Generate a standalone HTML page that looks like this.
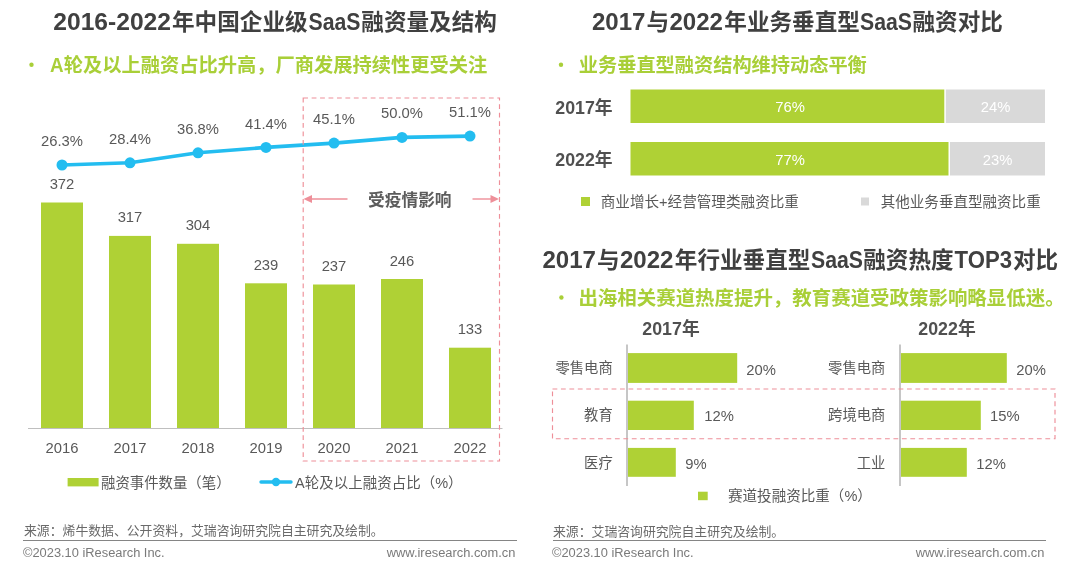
<!DOCTYPE html>
<html lang="zh-CN">
<head>
<meta charset="utf-8">
<title>SaaS融资量及结构</title>
<style>
html,body{margin:0;padding:0;background:#fff;}
body{width:1080px;height:572px;overflow:hidden;}
svg{display:block;font-family:"Liberation Sans", "Noto Sans CJK SC", sans-serif;}
</style>
</head>
<body>
<svg width="1080" height="572" viewBox="0 0 1080 572">
<rect x="0" y="0" width="1080" height="572" fill="#ffffff"/>
<text fill="#404040" font-weight="bold"><tspan x="53.3" y="29.6" font-size="23.3" textLength="117.7" lengthAdjust="spacingAndGlyphs">2016-2022</tspan><tspan x="172" y="29.9" font-size="22.6" textLength="135.6" lengthAdjust="spacingAndGlyphs">年中国企业级</tspan><tspan x="308.5" y="29.6" font-size="23.3" textLength="52" lengthAdjust="spacingAndGlyphs">SaaS</tspan><tspan x="361.3" y="29.9" font-size="22.6" textLength="135.6" lengthAdjust="spacingAndGlyphs">融资量及结构</tspan></text>
<circle cx="31.5" cy="64.8" r="2.2" fill="#a9cf38"/>
<text fill="#a9cf38" font-weight="bold"><tspan x="50" y="71.9" font-size="20.6" textLength="13.6" lengthAdjust="spacingAndGlyphs">A</tspan><tspan x="63.8" y="72.4" font-size="19.25" textLength="423.5" lengthAdjust="spacingAndGlyphs">轮及以上融资占比升高，厂商发展持续性更受关注</tspan></text>
<rect x="41" y="202.5" width="42" height="226.0" fill="#afd135"/>
<text x="62" y="189.0" font-size="14.8" fill="#595959" text-anchor="middle">372</text>
<rect x="109" y="235.9" width="42" height="192.6" fill="#afd135"/>
<text x="130" y="222.4" font-size="14.8" fill="#595959" text-anchor="middle">317</text>
<rect x="177" y="243.8" width="42" height="184.7" fill="#afd135"/>
<text x="198" y="230.3" font-size="14.8" fill="#595959" text-anchor="middle">304</text>
<rect x="245" y="283.3" width="42" height="145.2" fill="#afd135"/>
<text x="266" y="269.8" font-size="14.8" fill="#595959" text-anchor="middle">239</text>
<rect x="313" y="284.5" width="42" height="144.0" fill="#afd135"/>
<text x="334" y="271.0" font-size="14.8" fill="#595959" text-anchor="middle">237</text>
<rect x="381" y="279.0" width="42" height="149.5" fill="#afd135"/>
<text x="402" y="265.5" font-size="14.8" fill="#595959" text-anchor="middle">246</text>
<rect x="449" y="347.7" width="42" height="80.8" fill="#afd135"/>
<text x="470" y="334.2" font-size="14.8" fill="#595959" text-anchor="middle">133</text>
<line x1="28" y1="428.5" x2="502.5" y2="428.5" stroke="#bfbfbf" stroke-width="1"/>
<text x="62" y="453.3" font-size="14.8" fill="#595959" text-anchor="middle">2016</text>
<text x="130" y="453.3" font-size="14.8" fill="#595959" text-anchor="middle">2017</text>
<text x="198" y="453.3" font-size="14.8" fill="#595959" text-anchor="middle">2018</text>
<text x="266" y="453.3" font-size="14.8" fill="#595959" text-anchor="middle">2019</text>
<text x="334" y="453.3" font-size="14.8" fill="#595959" text-anchor="middle">2020</text>
<text x="402" y="453.3" font-size="14.8" fill="#595959" text-anchor="middle">2021</text>
<text x="470" y="453.3" font-size="14.8" fill="#595959" text-anchor="middle">2022</text>
<polyline points="62,165 130,162.8 198,152.8 266,147.4 334,143.1 402,137.4 470,136.1" fill="none" stroke="#23bdf0" stroke-width="3.6" stroke-linejoin="round" stroke-linecap="round"/>
<circle cx="62" cy="165" r="5.5" fill="#23bdf0"/>
<circle cx="130" cy="162.8" r="5.5" fill="#23bdf0"/>
<circle cx="198" cy="152.8" r="5.5" fill="#23bdf0"/>
<circle cx="266" cy="147.4" r="5.5" fill="#23bdf0"/>
<circle cx="334" cy="143.1" r="5.5" fill="#23bdf0"/>
<circle cx="402" cy="137.4" r="5.5" fill="#23bdf0"/>
<circle cx="470" cy="136.1" r="5.5" fill="#23bdf0"/>
<text x="62" y="146.4" font-size="14.8" fill="#595959" text-anchor="middle">26.3%</text>
<text x="130" y="143.8" font-size="14.8" fill="#595959" text-anchor="middle">28.4%</text>
<text x="198" y="133.5" font-size="14.8" fill="#595959" text-anchor="middle">36.8%</text>
<text x="266" y="128.5" font-size="14.8" fill="#595959" text-anchor="middle">41.4%</text>
<text x="334" y="124.3" font-size="14.8" fill="#595959" text-anchor="middle">45.1%</text>
<text x="402" y="118" font-size="14.8" fill="#595959" text-anchor="middle">50.0%</text>
<text x="470" y="117.1" font-size="14.8" fill="#595959" text-anchor="middle">51.1%</text>
<rect x="303.2" y="98" width="196.3" height="363" fill="none" stroke="#ee8f99" stroke-width="1.15" stroke-dasharray="4.8 3.64"/>
<g stroke="#ee8f99" stroke-width="1.4" fill="#ee8f99"><line x1="308" y1="199" x2="347.5" y2="199"/><polygon points="303.5,199 312,195 312,203" stroke="none"/><line x1="472.5" y1="199" x2="494" y2="199"/><polygon points="499,199 490.5,195 490.5,203" stroke="none"/></g>
<text x="409.8" y="205.5" font-size="16.7" fill="#5c5c5c" font-weight="bold" text-anchor="middle">受疫情影响</text>
<rect x="67.6" y="478" width="31" height="8.4" fill="#afd135"/>
<text x="101" y="487.5" font-size="14.4" fill="#595959">融资事件数量（笔）</text>
<line x1="261" y1="482" x2="291" y2="482" stroke="#23bdf0" stroke-width="3.4" stroke-linecap="round"/><circle cx="276" cy="482" r="4.2" fill="#23bdf0"/>
<text x="295" y="487.5" font-size="14.5" fill="#595959">A轮及以上融资占比（%）</text>
<text x="24" y="535" font-size="12.85" fill="#6a6a6a">来源：烯牛数据、公开资料，艾瑞咨询研究院自主研究及绘制。</text>
<line x1="23" y1="540.5" x2="517" y2="540.5" stroke="#858585" stroke-width="1"/>
<text x="23" y="556.7" font-size="12.85" fill="#7a7a7a">©2023.10 iResearch Inc.</text>
<text x="515.3" y="556.5" font-size="12.85" fill="#7a7a7a" text-anchor="end">www.iresearch.com.cn</text>
<text fill="#404040" font-weight="bold"><tspan x="592" y="29.8" font-size="23.3" textLength="53.5" lengthAdjust="spacingAndGlyphs">2017</tspan><tspan x="646.4" y="30.1" font-size="22.6" textLength="22.6" lengthAdjust="spacingAndGlyphs">与</tspan><tspan x="669.5" y="29.8" font-size="23.3" textLength="53.5" lengthAdjust="spacingAndGlyphs">2022</tspan><tspan x="724.3" y="30.1" font-size="22.6" textLength="135.6" lengthAdjust="spacingAndGlyphs">年业务垂直型</tspan><tspan x="860" y="29.8" font-size="23.3" textLength="52" lengthAdjust="spacingAndGlyphs">SaaS</tspan><tspan x="912.5" y="30.1" font-size="22.6" textLength="90.4" lengthAdjust="spacingAndGlyphs">融资对比</tspan></text>
<circle cx="561" cy="64.8" r="2.2" fill="#a9cf38"/>
<text x="578.8" y="72.4" font-size="19.2" fill="#a9cf38" font-weight="bold" textLength="288" lengthAdjust="spacingAndGlyphs">业务垂直型融资结构维持动态平衡</text>
<rect x="630.5" y="89.5" width="313.8" height="33.5" fill="#afd135"/>
<rect x="945.8" y="89.5" width="99.2" height="33.5" fill="#d9d9d9"/>
<text x="555.3" y="113.8" font-size="17.8" fill="#505050" font-weight="bold">2017年</text>
<text x="790" y="112.0" font-size="14.8" fill="#ffffff" text-anchor="middle">76%</text>
<text x="995.56" y="112.0" font-size="14.8" fill="#ffffff" text-anchor="middle">24%</text>
<rect x="630.5" y="142" width="318.0" height="33.5" fill="#afd135"/>
<rect x="950.0" y="142" width="95.0" height="33.5" fill="#d9d9d9"/>
<text x="555.3" y="166.3" font-size="17.8" fill="#505050" font-weight="bold">2022年</text>
<text x="790" y="164.5" font-size="14.8" fill="#ffffff" text-anchor="middle">77%</text>
<text x="997.6325" y="164.5" font-size="14.8" fill="#ffffff" text-anchor="middle">23%</text>
<rect x="581" y="197" width="9" height="9" fill="#afd135"/>
<text x="600.7" y="206.5" font-size="14.6" fill="#595959">商业增长+经营管理类融资比重</text>
<rect x="861" y="197.5" width="8" height="8" fill="#d9d9d9"/>
<text x="880.7" y="206.5" font-size="14.55" fill="#595959">其他业务垂直型融资比重</text>
<text fill="#404040" font-weight="bold"><tspan x="542.5" y="267.7" font-size="23.3" textLength="53.5" lengthAdjust="spacingAndGlyphs">2017</tspan><tspan x="596.9" y="268.0" font-size="22.6" textLength="22.6" lengthAdjust="spacingAndGlyphs">与</tspan><tspan x="620" y="267.7" font-size="23.3" textLength="53.5" lengthAdjust="spacingAndGlyphs">2022</tspan><tspan x="674.8" y="268.0" font-size="22.6" textLength="135.6" lengthAdjust="spacingAndGlyphs">年行业垂直型</tspan><tspan x="811" y="267.7" font-size="23.3" textLength="52" lengthAdjust="spacingAndGlyphs">SaaS</tspan><tspan x="863.2" y="268.0" font-size="22.6" textLength="90.4" lengthAdjust="spacingAndGlyphs">融资热度</tspan><tspan x="954.5" y="267.7" font-size="23.3" textLength="57.5" lengthAdjust="spacingAndGlyphs">TOP3</tspan><tspan x="1013" y="268.0" font-size="22.6" textLength="45.2" lengthAdjust="spacingAndGlyphs">对比</tspan></text>
<circle cx="561.4" cy="297.5" r="2.2" fill="#a9cf38"/>
<text x="578.4" y="304.5" font-size="19.45" fill="#a9cf38" font-weight="bold" textLength="486.2" lengthAdjust="spacingAndGlyphs">出海相关赛道热度提升，教育赛道受政策影响略显低迷。</text>
<text x="671" y="335" font-size="17.8" fill="#505050" font-weight="bold" text-anchor="middle">2017年</text>
<text x="947" y="335" font-size="17.8" fill="#505050" font-weight="bold" text-anchor="middle">2022年</text>
<line x1="627.0" y1="344.6" x2="627.0" y2="486" stroke="#a0a0a0" stroke-width="1.2"/>
<rect x="628.0" y="353.1" width="109.2" height="29.8" fill="#afd135"/>
<text x="612.7" y="373.1" font-size="14.3" fill="#595959" text-anchor="end">零售电商</text>
<text x="746.3" y="374.5" font-size="14.8" fill="#595959">20%</text>
<rect x="628.0" y="400.7" width="65.8" height="29.3" fill="#afd135"/>
<text x="612.7" y="420.3" font-size="14.3" fill="#595959" text-anchor="end">教育</text>
<text x="704.3" y="421.1" font-size="14.8" fill="#595959">12%</text>
<rect x="628.0" y="447.9" width="47.8" height="28.9" fill="#afd135"/>
<text x="612.7" y="467.6" font-size="14.3" fill="#595959" text-anchor="end">医疗</text>
<text x="685.3" y="468.7" font-size="14.8" fill="#595959">9%</text>
<line x1="900.0" y1="344.6" x2="900.0" y2="486" stroke="#a0a0a0" stroke-width="1.2"/>
<rect x="901.0" y="353.1" width="105.8" height="29.8" fill="#afd135"/>
<text x="885.3" y="373.1" font-size="14.3" fill="#595959" text-anchor="end">零售电商</text>
<text x="1016.3" y="374.5" font-size="14.8" fill="#595959">20%</text>
<rect x="901.0" y="400.7" width="79.8" height="29.3" fill="#afd135"/>
<text x="885.3" y="420.3" font-size="14.3" fill="#595959" text-anchor="end">跨境电商</text>
<text x="990.0" y="421.1" font-size="14.8" fill="#595959">15%</text>
<rect x="901.0" y="447.9" width="65.8" height="28.9" fill="#afd135"/>
<text x="885.3" y="467.6" font-size="14.3" fill="#595959" text-anchor="end">工业</text>
<text x="976.3" y="468.7" font-size="14.8" fill="#595959">12%</text>
<rect x="552.5" y="389" width="502.5" height="49.7" fill="none" stroke="#ee8f99" stroke-width="1.15" stroke-dasharray="4.8 3.64"/>
<rect x="698" y="491.7" width="9.7" height="8.5" fill="#afd135"/>
<text x="728" y="501" font-size="14.55" fill="#595959">赛道投融资比重（%）</text>
<text x="553" y="535.7" font-size="12.85" fill="#6a6a6a">来源：艾瑞咨询研究院自主研究及绘制。</text>
<line x1="553" y1="540.5" x2="1046" y2="540.5" stroke="#858585" stroke-width="1"/>
<text x="552" y="556.7" font-size="12.85" fill="#7a7a7a">©2023.10 iResearch Inc.</text>
<text x="1044.3" y="556.5" font-size="12.85" fill="#7a7a7a" text-anchor="end">www.iresearch.com.cn</text>
</svg>
</body>
</html>
